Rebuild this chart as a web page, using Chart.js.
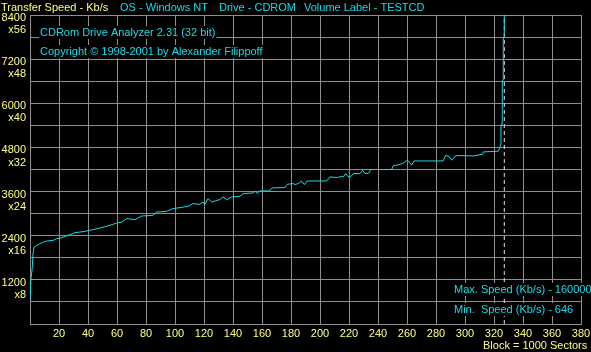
<!DOCTYPE html>
<html lang="en">
<head>
<meta charset="UTF-8">
<title>CDRom Drive Analyzer</title>
<script src="https://cdn.jsdelivr.net/npm/chart.js"></script>
<style>
  html, body { margin: 0; padding: 0; background: #000; overflow: hidden; }
  canvas { display: block; }
</style>
</head>
<body>

<canvas id="myChart" width="591" height="352"></canvas>

<script>
// transfer speed along the disc (block = 1000 sectors)
const blocks = [
    0, 0.7, 1.6, 2.1, 2.8, 4.6, 6.9, 9.2, 11.5, 16.1, 18.4, 21.9, 24.1, 27.6, 31, 34.5,
    37.9, 43.4, 52.9, 59.8, 63.2, 66.7, 72.4, 77, 84.8, 87.4, 94.3, 98.6, 103.4, 109, 112.4,
    117.2, 119.3, 120.7, 122.8, 125.3, 131, 133.1, 135.7, 139.1, 144.8, 147.1, 153.8, 155.2,
    156.6, 158.6, 165, 166.7, 175.9, 177.4, 181.6, 182.8, 185, 187.4, 189.2, 191.2, 204.6,
    206.9, 211.9, 215, 216.1, 217.7, 219.5, 221.4, 223, 227.6, 229.4, 231, 233.3, 235, 249.4,
    250.6, 254, 257.9, 259.8, 261.6, 263.2, 264.8, 285, 286.7, 289.2, 290.8, 293.1, 294.3,
    305.7, 312.2, 312.6, 323, 324.1, 324.8, 324.8, 325.7, 325.7, 326.4, 326.4, 327.1, 327.1
];
const speeds = [
    646, 1231, 1547, 1912, 2091, 2138, 2184, 2227, 2255, 2274, 2320, 2347, 2383, 2429, 2483, 2500,
    2519, 2565, 2655, 2745, 2772, 2865, 2837, 2935, 2954, 3044, 3063, 3137, 3164, 3199, 3273,
    3254, 3317, 3254, 3409, 3317, 3382, 3453, 3382, 3453, 3472, 3545, 3562, 3616,
    3545, 3616, 3616, 3698, 3709, 3799, 3818, 3790, 3818, 3888, 3790, 3888, 3888,
    3997, 3981, 4016, 3997, 4090, 3997, 4016, 4090, 4090, 4180, 4090, 4090, 4199, 4199,
    4308, 4324, 4379, 4452, 4406, 4316, 4433, 4433, 4588, 4542, 4452, 4561, 4580,
    4569, 4616, 4678, 4697, 4798, 4907, 5424, 5432, 6611, 6631, 7793, 7810, 8400
];
const discEnd = 327.1;

const speedTicks = [1200, 2400, 3600, 4800, 6000, 7200, 8400];
const speedMultipliers = ['x8', 'x16', 'x24', 'x32', 'x40', 'x48', 'x56'];

const headerItems = [
    { text: 'Transfer Speed - Kb/s', x: 1, yellow: true },
    { text: 'OS - Windows NT', x: 120 },
    { text: 'Drive - CDROM', x: 219 },
    { text: 'Volume Label - TESTCD', x: 304 }
];
const infoLines = [
    { text: 'CDRom Drive Analyzer 2.31 (32 bit)', x: 40, y: 36 },
    { text: 'Copyright \u00a9 1998-2001 by Alexander Filippoff', x: 40, y: 55 },
    { text: 'Max. Speed (Kb/s) - 1600000', x: 454, y: 293 },
    { text: 'Min.  Speed (Kb/s) - 646', x: 454, y: 313 }
];
const blockNote = 'Block = 1000 Sectors';

const yellow = '#ffff80';
const cyan = '#16dce6';
const gridColor = '#8e8e8e';
const fontFamily = '"Liberation Sans", Arial, sans-serif';

Chart.defaults.font.family = fontFamily;
Chart.defaults.font.size = 11;

const topSpeed = speedTicks[speedTicks.length - 1];

const textPlugin = {
    id: 'analyzerText',
    afterDatasetsDraw(chart) {
        const ctx = chart.ctx;
        ctx.save();
        ctx.font = '11px ' + fontFamily;
        ctx.textBaseline = 'alphabetic';
        ctx.textAlign = 'left';
        infoLines.forEach(line => {
            const w = ctx.measureText(line.text).width;
            ctx.fillStyle = '#000';
            ctx.fillRect(line.x - 1, line.y - 10, w + 2, 13);
            ctx.fillStyle = cyan;
            ctx.fillText(line.text, line.x, line.y);
        });
        ctx.restore();
    },
    afterDraw(chart) {
        const ctx = chart.ctx;
        ctx.save();
        ctx.font = '11px ' + fontFamily;
        ctx.textBaseline = 'alphabetic';
        ctx.textAlign = 'left';
        headerItems.forEach(item => {
            ctx.fillStyle = item.yellow ? yellow : cyan;
            ctx.fillText(item.text, item.x, 11);
        });
        ctx.fillStyle = yellow;
        ctx.fillText(blockNote, 483, 349);
        ctx.restore();
    }
};

const ctx = document.getElementById('myChart').getContext('2d');
const chart = new Chart(ctx, {
    type: 'line',
    data: {
        datasets: [{
            data: blocks.map((b, i) => ({ x: b, y: speeds[i] })),
            borderColor: cyan,
            borderWidth: 1,
            pointRadius: 0,
            tension: 0,
            fill: false
        }, {
            data: [{ x: discEnd, y: 0 }, { x: discEnd, y: topSpeed }],
            borderColor: '#e6e6e6',
            borderWidth: 1,
            borderDash: [4, 3],
            pointRadius: 0,
            fill: false
        }]
    },
    options: {
        responsive: false,
        animation: false,
        layout: { padding: { top: 15, right: 10, left: 0, bottom: 0 } },
        plugins: {
            legend: { display: false },
            tooltip: { enabled: false }
        },
        scales: {
            x: {
                type: 'linear',
                min: 0,
                max: 380,
                grid: { color: gridColor, drawTicks: false },
                border: { color: gridColor },
                ticks: {
                    stepSize: 20,
                    color: yellow,
                    padding: 3,
                    maxRotation: 0,
                    autoSkip: false,
                    callback: v => v === 0 ? '' : String(v)
                },
                afterFit: s => {
                    s.height = 28;
                    s.paddingLeft = 0;
                    s.paddingRight = 0;
                }
            },
            y: {
                min: 0,
                max: topSpeed,
                grid: { color: gridColor, drawTicks: false },
                border: { color: gridColor },
                ticks: {
                    stepSize: 600,
                    color: yellow,
                    padding: 4,
                    labelOffset: 9,
                    autoSkip: false,
                    font: { size: 11, lineHeight: 1.1 },
                    callback: v => {
                        const i = speedTicks.indexOf(v);
                        return i < 0 ? '' : [String(v), speedMultipliers[i]];
                    }
                },
                afterFit: s => {
                    s.width = 30;
                    s.paddingTop = 0;
                    s.paddingBottom = 0;
                }
            }
        }
    },
    plugins: [textPlugin]
});
</script>

</body>
</html>
